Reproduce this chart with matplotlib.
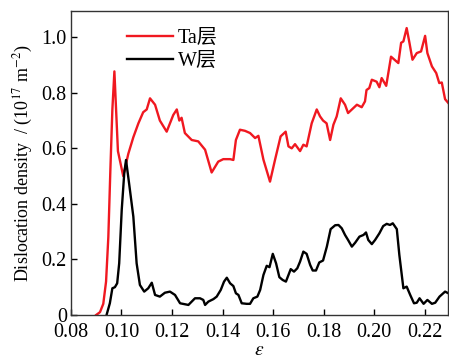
import numpy as np
import matplotlib.pyplot as plt

plt.rcParams['font.family'] = ['Liberation Serif', 'Noto Sans CJK SC']
plt.rcParams['mathtext.fontset'] = 'stix'

# Ta layer
ta_strain = [0.0900, 0.0915, 0.0928, 0.0939, 0.0948, 0.0956, 0.0964, 0.0972,
             0.0986, 0.1007, 0.1027, 0.1047, 0.1067, 0.1086, 0.1100, 0.1113,
             0.1133, 0.1152, 0.1179, 0.1205, 0.1219, 0.1229, 0.1238, 0.1251,
             0.1278, 0.1304, 0.1331, 0.1357, 0.1383, 0.1403, 0.1430, 0.1443,
             0.1453, 0.1469, 0.1489, 0.1509, 0.1529, 0.1542, 0.1562, 0.1588,
             0.1608, 0.1630, 0.1650, 0.1661, 0.1674, 0.1687, 0.1707, 0.1720,
             0.1733, 0.1753, 0.1773, 0.1786, 0.1798, 0.1812, 0.1826, 0.1839,
             0.1852, 0.1868, 0.1885, 0.1897, 0.1932, 0.1951, 0.1964, 0.1970,
             0.1981, 0.1991, 0.2010, 0.2021, 0.2030, 0.2048, 0.2067, 0.2096,
             0.2107, 0.2116, 0.2129, 0.2140, 0.2152, 0.2169, 0.2186, 0.2202,
             0.2211, 0.2229, 0.2246, 0.2258, 0.2268, 0.2281, 0.2294]
ta_density = [0.000, 0.010, 0.040, 0.120, 0.280, 0.520, 0.740, 0.877,
              0.590, 0.500, 0.580, 0.640, 0.690, 0.730, 0.740, 0.780,
              0.757, 0.700, 0.660, 0.720, 0.740, 0.700, 0.710, 0.655,
              0.630, 0.625, 0.595, 0.513, 0.552, 0.561, 0.561, 0.558,
              0.630, 0.667, 0.663, 0.655, 0.637, 0.645, 0.559, 0.480,
              0.559, 0.643, 0.660, 0.607, 0.600, 0.615, 0.590, 0.613,
              0.607, 0.690, 0.740, 0.715, 0.700, 0.690, 0.630, 0.685,
              0.715, 0.780, 0.757, 0.727, 0.757, 0.748, 0.769, 0.810,
              0.817, 0.847, 0.840, 0.820, 0.853, 0.825, 0.930, 0.907,
              0.980, 0.985, 1.033, 0.980, 0.919, 0.943, 0.949, 1.005,
              0.943, 0.895, 0.871, 0.835, 0.837, 0.777, 0.763]

# W layer
w_strain = [0.0941, 0.0954, 0.0964, 0.0974, 0.0983, 0.0991, 0.1001, 0.1011,
            0.1018, 0.1030, 0.1047, 0.1060, 0.1073, 0.1090, 0.1106, 0.1120,
            0.1133, 0.1152, 0.1172, 0.1192, 0.1212, 0.1232, 0.1265, 0.1291,
            0.1311, 0.1324, 0.1331, 0.1344, 0.1364, 0.1377, 0.1393, 0.1406,
            0.1417, 0.1430, 0.1443, 0.1453, 0.1463, 0.1476, 0.1496, 0.1509,
            0.1522, 0.1538, 0.1549, 0.1562, 0.1575, 0.1586, 0.1599, 0.1612,
            0.1625, 0.1638, 0.1651, 0.1670, 0.1683, 0.1696, 0.1707, 0.1720,
            0.1733, 0.1747, 0.1757, 0.1770, 0.1783, 0.1798, 0.1813, 0.1828,
            0.1846, 0.1859, 0.1872, 0.1885, 0.1897, 0.1912, 0.1925, 0.1942,
            0.1958, 0.1968, 0.1977, 0.1991, 0.2004, 0.2021, 0.2036, 0.2050,
            0.2063, 0.2074, 0.2090, 0.2100, 0.2116, 0.2129, 0.2143, 0.2158,
            0.2169, 0.2180, 0.2196, 0.2211, 0.2229, 0.2242, 0.2259, 0.2281,
            0.2294]
w_density = [0.000, 0.042, 0.096, 0.100, 0.114, 0.186, 0.378, 0.510,
             0.558, 0.475, 0.354, 0.186, 0.108, 0.084, 0.096, 0.116,
             0.072, 0.066, 0.080, 0.084, 0.072, 0.042, 0.036, 0.060,
             0.060, 0.054, 0.036, 0.048, 0.057, 0.066, 0.090, 0.120,
             0.134, 0.114, 0.104, 0.078, 0.072, 0.042, 0.040, 0.040,
             0.060, 0.066, 0.090, 0.144, 0.177, 0.172, 0.220, 0.186,
             0.136, 0.126, 0.120, 0.165, 0.156, 0.168, 0.192, 0.228,
             0.220, 0.180, 0.160, 0.160, 0.189, 0.196, 0.246, 0.309,
             0.323, 0.324, 0.312, 0.288, 0.270, 0.246, 0.260, 0.282,
             0.288, 0.297, 0.270, 0.255, 0.270, 0.294, 0.320, 0.328,
             0.324, 0.330, 0.309, 0.216, 0.096, 0.102, 0.072, 0.042,
             0.044, 0.060, 0.040, 0.054, 0.040, 0.044, 0.066, 0.084,
             0.078]

xticks = [0.08, 0.10, 0.12, 0.14, 0.16, 0.18, 0.20, 0.22]
yticks = [0, 0.2, 0.4, 0.6, 0.8, 1.0]
ytick_labels = ['0', '0.2', '0.4', '0.6', '0.8', '1.0']

fig = plt.figure(figsize=(4.49, 3.62), dpi=100)
ax = fig.add_axes([0.158, 0.130, 0.840, 0.840])

ax.plot(ta_strain, ta_density, color='#f01820', lw=1.7, label='Ta层')
ax.plot(w_strain, w_density, color='black', lw=1.7, label='W层')

ax.set_xlim(0.08, 0.2293)
ax.set_ylim(0, 1.095)
ax.set_xticks(xticks)
ax.set_xticklabels(['%.2f' % t for t in xticks])
ax.set_yticks(yticks)
ax.set_yticklabels(ytick_labels)
ax.tick_params(direction='in', length=4, width=1, labelsize=14.5)
ax.tick_params(axis='x', pad=6)
ax.tick_params(axis='y', pad=3)
for s in ax.spines.values():
    s.set_linewidth(1.0)
    s.set_color('#333333')

ax.set_ylabel(r'Dislocation density  / (10$^{17}$ m$^{-2}$)', fontsize=13, labelpad=5)
ax.set_xlabel(r'$\varepsilon$', fontsize=14, labelpad=0)

ax.legend(loc='upper left', bbox_to_anchor=(0.10, 1.0), frameon=False,
          fontsize=14.5, handlelength=2.3, handletextpad=0.25, labelspacing=0.2)

fig.savefig('out.png', dpi=100)
